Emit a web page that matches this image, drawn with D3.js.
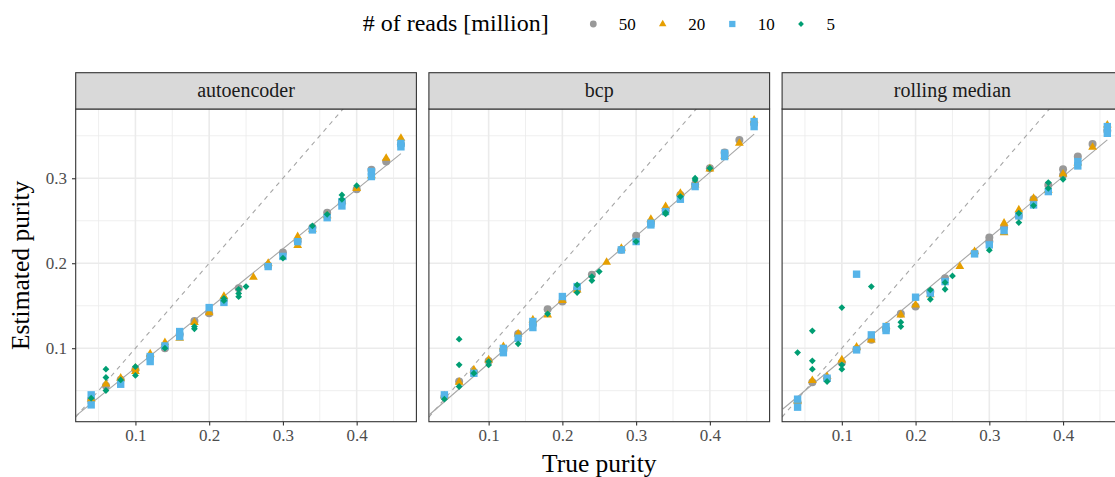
<!DOCTYPE html>
<html>
<head>
<meta charset="utf-8">
<script src="https://cdn.jsdelivr.net/npm/d3@7"></script>
<style>
  html, body { margin: 0; padding: 0; background: #fff; overflow: hidden; }
  svg { display: block; font-family: "Liberation Serif", "DejaVu Serif", serif; }
</style>
</head>
<body>
<svg id="chart" width="1115" height="477"></svg>
<script>
// ---- data ---------------------------------------------------------------
const methods = ["autoencoder", "bcp", "rolling median"];
const readLabels = ["50", "20", "10", "5"];          // million reads
const readColors = ["#999999", "#E69F00", "#56B4E9", "#009E73"];
const xTicks = [0.1, 0.2, 0.3, 0.4];
const xMinor = [0.05, 0.15, 0.25, 0.35, 0.45];
const yTicks = [0.1, 0.2, 0.3];
const yMinor = [0.05, 0.15, 0.25, 0.35];

// linear fit of estimated vs true purity, per method
const fitSlope = [0.700, 0.750, 0.720];
const fitIntercept = [0.007, 0.007, 0.014];
const fitRange = [0.02, 0.46];

// [true purity, estimated purity]
const autoencoder50 = [[0.04,0.040],[0.06,0.0557],[0.08,0.063],[0.10,0.075],[0.12,0.090],[0.14,0.100],[0.16,0.116],[0.18,0.1321],[0.20,0.1411],[0.22,0.157],[0.24,0.1705],[0.28,0.197],[0.30,0.2125],[0.32,0.226],[0.34,0.242],[0.36,0.2595],[0.38,0.272],[0.40,0.287],[0.42,0.310],[0.44,0.3196],[0.46,0.340]];
const autoencoder20 = [[0.04,0.040],[0.06,0.058],[0.08,0.0647],[0.10,0.0765],[0.10,0.0726],[0.12,0.0933],[0.14,0.1066],[0.16,0.1117],[0.18,0.1302],[0.20,0.1419],[0.22,0.1610],[0.26,0.1835],[0.28,0.200],[0.32,0.2313],[0.32,0.2209],[0.34,0.240],[0.36,0.256],[0.38,0.273],[0.40,0.288],[0.42,0.303],[0.44,0.3235],[0.46,0.347]];
const autoencoder10 = [[0.04,0.0451],[0.04,0.0333],[0.08,0.0576],[0.12,0.0902],[0.12,0.0843],[0.14,0.1027],[0.16,0.1196],[0.16,0.1137],[0.20,0.1478],[0.22,0.1539],[0.28,0.1961],[0.30,0.208],[0.32,0.2254],[0.34,0.2392],[0.36,0.2536],[0.38,0.2725],[0.38,0.2674],[0.42,0.3078],[0.42,0.302],[0.46,0.341],[0.46,0.337]];
const autoencoder5 = [[0.04,0.0412],[0.06,0.0753],[0.06,0.0655],[0.06,0.0502],[0.08,0.0627],[0.10,0.0784],[0.10,0.068],[0.14,0.100],[0.18,0.1255],[0.18,0.1228],[0.22,0.1586],[0.22,0.1559],[0.24,0.1693],[0.24,0.1645],[0.24,0.1606],[0.25,0.1725],[0.30,0.2059],[0.34,0.2439],[0.36,0.2575],[0.38,0.2804],[0.38,0.2753],[0.40,0.2913]];

const bcp50 = [[0.04,0.043],[0.06,0.0608],[0.08,0.072],[0.10,0.085],[0.12,0.098],[0.14,0.1168],[0.16,0.128],[0.18,0.1459],[0.20,0.1549],[0.22,0.170],[0.24,0.1863],[0.28,0.216],[0.30,0.2322],[0.32,0.248],[0.34,0.262],[0.36,0.2804],[0.38,0.293],[0.40,0.3118],[0.42,0.3302],[0.44,0.3451],[0.46,0.364]];
const bcp20 = [[0.04,0.044],[0.06,0.060],[0.08,0.0744],[0.10,0.0862],[0.12,0.1018],[0.14,0.1169],[0.16,0.1333],[0.18,0.1392],[0.20,0.1561],[0.22,0.1686],[0.26,0.2012],[0.28,0.2176],[0.32,0.2518],[0.34,0.2667],[0.36,0.2824],[0.38,0.292],[0.40,0.311],[0.42,0.326],[0.44,0.3412],[0.46,0.3686]];
const bcp10 = [[0.04,0.0451],[0.08,0.0705],[0.12,0.0998],[0.12,0.0947],[0.14,0.1118],[0.16,0.1314],[0.16,0.1243],[0.20,0.1608],[0.22,0.1725],[0.28,0.2157],[0.30,0.2255],[0.32,0.2471],[0.32,0.2451],[0.34,0.2608],[0.36,0.2753],[0.38,0.2902],[0.42,0.3294],[0.42,0.3255],[0.46,0.3667],[0.46,0.3608]];
const bcp5 = [[0.04,0.040],[0.06,0.1106],[0.06,0.0804],[0.06,0.0549],[0.08,0.0705],[0.10,0.0843],[0.10,0.0803],[0.14,0.1051],[0.18,0.1404],[0.22,0.1745],[0.22,0.1655],[0.24,0.1843],[0.24,0.1796],[0.25,0.1902],[0.30,0.2255],[0.34,0.2596],[0.34,0.258],[0.36,0.2784],[0.38,0.300],[0.38,0.298],[0.40,0.3118]];

const rollingMedian50 = [[0.04,0.036],[0.06,0.060],[0.08,0.064],[0.10,0.083],[0.12,0.099],[0.14,0.110],[0.16,0.122],[0.18,0.1404],[0.20,0.149],[0.22,0.1667],[0.24,0.1824],[0.28,0.212],[0.30,0.2302],[0.30,0.2255],[0.32,0.242],[0.34,0.256],[0.36,0.2753],[0.38,0.2922],[0.40,0.3106],[0.40,0.3039],[0.42,0.3255],[0.44,0.3404],[0.46,0.356]];
const rollingMedian20 = [[0.04,0.038],[0.06,0.062],[0.08,0.0667],[0.10,0.0863],[0.12,0.1012],[0.14,0.1098],[0.16,0.1255],[0.18,0.1392],[0.20,0.151],[0.22,0.163],[0.26,0.1961],[0.28,0.2137],[0.32,0.2471],[0.32,0.236],[0.34,0.2627],[0.36,0.2765],[0.38,0.286],[0.40,0.305],[0.42,0.318],[0.44,0.3365],[0.46,0.3627]];
const rollingMedian10 = [[0.04,0.040],[0.04,0.0306],[0.08,0.0647],[0.12,0.1871],[0.12,0.098],[0.14,0.1157],[0.16,0.1255],[0.16,0.1208],[0.20,0.160],[0.22,0.1647],[0.24,0.1784],[0.28,0.211],[0.30,0.2216],[0.32,0.2384],[0.34,0.2557],[0.36,0.2686],[0.38,0.2843],[0.42,0.3196],[0.42,0.3145],[0.46,0.3608],[0.46,0.3529]];
const rollingMedian5 = [[0.04,0.0949],[0.06,0.1204],[0.06,0.0851],[0.06,0.0753],[0.08,0.0608],[0.10,0.1478],[0.10,0.0804],[0.10,0.0753],[0.14,0.1725],[0.18,0.1306],[0.18,0.1255],[0.22,0.1686],[0.22,0.1576],[0.24,0.1773],[0.24,0.1694],[0.25,0.1851],[0.30,0.2153],[0.34,0.2588],[0.34,0.2478],[0.36,0.2678],[0.38,0.2949],[0.38,0.2882],[0.40,0.2988]];

const methodSeries = [
  [autoencoder50, autoencoder20, autoencoder10, autoencoder5],
  [bcp50, bcp20, bcp10, bcp5],
  [rollingMedian50, rollingMedian20, rollingMedian10, rollingMedian5]
];

// ---- layout -------------------------------------------------------------
const svg = d3.select("#chart");
const panelW = 340.7, panelGap = 12.5, firstLeft = 75.7;
const stripTop = 72.7, panelTop = 109, panelBottom = 421.7;
const xDomain = [0.019, 0.481];
const yDomain = [0.0135, 0.3815];
const border = "#333333";

const y = d3.scaleLinear().domain(yDomain).range([panelBottom, panelTop]);

// marker shapes: circle, triangle, square, diamond
function markerPath(i, k) {
  const p = d3.path();
  if (i === 0) {
    const r = 4 * k; p.moveTo(r, 0); p.arc(0, 0, r, 0, 2 * Math.PI);
  } else if (i === 1) {
    const s = 8.8 * k, h = s * Math.sqrt(3) / 2;
    p.moveTo(0, -2 * h / 3); p.lineTo(s / 2, h / 3); p.lineTo(-s / 2, h / 3); p.closePath();
  } else if (i === 2) {
    const a = 3.7 * k; p.rect(-a, -a, 2 * a, 2 * a);
  } else {
    const r = 3.4 * k;
    p.moveTo(0, -r); p.lineTo(r, 0); p.lineTo(0, r); p.lineTo(-r, 0); p.closePath();
  }
  return p.toString();
}

const defs = svg.append("defs");

methods.forEach((name, m) => {
  const left = firstLeft + m * (panelW + panelGap);
  const x = d3.scaleLinear().domain(xDomain).range([left, left + panelW]);
  const g = svg.append("g");

  defs.append("clipPath").attr("id", "clip" + m)
    .append("rect").attr("x", left).attr("y", panelTop)
    .attr("width", panelW).attr("height", panelBottom - panelTop);

  // panel background and grid
  g.append("rect").attr("x", left).attr("y", panelTop)
    .attr("width", panelW).attr("height", panelBottom - panelTop).attr("fill", "#fff");

  const grid = g.append("g").attr("clip-path", `url(#clip${m})`);
  grid.selectAll(".xmin").data(xMinor).join("line")
    .attr("x1", d => x(d)).attr("x2", d => x(d)).attr("y1", panelTop).attr("y2", panelBottom)
    .attr("stroke", "#EBEBEB").attr("stroke-width", 0.8);
  grid.selectAll(".ymin").data(yMinor).join("line")
    .attr("y1", d => y(d)).attr("y2", d => y(d)).attr("x1", left).attr("x2", left + panelW)
    .attr("stroke", "#EBEBEB").attr("stroke-width", 0.8);
  grid.selectAll(".xmaj").data(xTicks).join("line")
    .attr("x1", d => x(d)).attr("x2", d => x(d)).attr("y1", panelTop).attr("y2", panelBottom)
    .attr("stroke", "#EBEBEB").attr("stroke-width", 1.6);
  grid.selectAll(".ymaj").data(yTicks).join("line")
    .attr("y1", d => y(d)).attr("y2", d => y(d)).attr("x1", left).attr("x2", left + panelW)
    .attr("stroke", "#EBEBEB").attr("stroke-width", 1.6);

  // identity line and fitted line
  const lines = g.append("g").attr("clip-path", `url(#clip${m})`);
  lines.append("line")
    .attr("x1", x(xDomain[0])).attr("y1", y(xDomain[0]))
    .attr("x2", x(xDomain[1])).attr("y2", y(xDomain[1]))
    .attr("stroke", "#A6A6A6").attr("stroke-width", 1.1).attr("stroke-dasharray", "4.5,4.5");
  const fy = v => fitIntercept[m] + fitSlope[m] * v;
  lines.append("line")
    .attr("x1", x(fitRange[0])).attr("y1", y(fy(fitRange[0])))
    .attr("x2", x(fitRange[1])).attr("y2", y(fy(fitRange[1])))
    .attr("stroke", "#A6A6A6").attr("stroke-width", 1.1);

  // points: 50, 20, 10, 5 million reads
  const pts = g.append("g");
  methodSeries[m].forEach((series, s) => {
    pts.selectAll(null).data(series).join("path")
      .attr("transform", d => `translate(${x(d[0])},${y(d[1])})`)
      .attr("d", markerPath(s, 1))
      .attr("fill", readColors[s]);
  });

  // panel border
  g.append("rect").attr("x", left).attr("y", panelTop)
    .attr("width", panelW).attr("height", panelBottom - panelTop)
    .attr("fill", "none").attr("stroke", border).attr("stroke-width", 1.1);

  // strip
  g.append("rect").attr("x", left).attr("y", stripTop)
    .attr("width", panelW).attr("height", panelTop - stripTop)
    .attr("fill", "#D9D9D9").attr("stroke", border).attr("stroke-width", 1.1);
  g.append("text").attr("x", left + panelW / 2).attr("y", 97)
    .attr("text-anchor", "middle").attr("font-size", 20).attr("fill", "#1A1A1A")
    .text(name);

  // x axis
  const xAxis = g.append("g").attr("transform", `translate(0,${panelBottom})`)
    .call(d3.axisBottom(x).tickValues(xTicks).tickSize(3.7).tickPadding(4)
      .tickFormat(d3.format(".1f")));
  xAxis.select(".domain").remove();
  xAxis.selectAll(".tick line").attr("stroke", border).attr("stroke-width", 1.1);
  xAxis.selectAll(".tick text").attr("font-size", 17).attr("fill", "#4D4D4D")
    .attr("font-family", "Liberation Serif, DejaVu Serif, serif");

  if (m === 0) {
    const yAxis = g.append("g").attr("transform", `translate(${left},0)`)
      .call(d3.axisLeft(y).tickValues(yTicks).tickSize(3.7).tickPadding(5)
        .tickFormat(d3.format(".1f")));
    yAxis.select(".domain").remove();
    yAxis.selectAll(".tick line").attr("stroke", border).attr("stroke-width", 1.1);
    yAxis.selectAll(".tick text").attr("font-size", 17).attr("fill", "#4D4D4D")
      .attr("font-family", "Liberation Serif, DejaVu Serif, serif");
  }
});

// axis titles
const plotRight = firstLeft + 3 * panelW + 2 * panelGap;
svg.append("text").attr("x", (firstLeft + plotRight) / 2).attr("y", 472)
  .attr("text-anchor", "middle").attr("font-size", 25.5).attr("fill", "#000")
  .text("True purity");
svg.append("text")
  .attr("transform", `translate(29,${(panelTop + panelBottom) / 2}) rotate(-90)`)
  .attr("text-anchor", "middle").attr("font-size", 25.5).attr("fill", "#000")
  .text("Estimated purity");

// legend
const legend = svg.append("g");
legend.append("text").attr("x", 362.7).attr("y", 30.5)
  .attr("font-size", 24).attr("fill", "#000").text("# of reads [million]");
const legendKeyX = [593.3, 662.7, 732.3, 801];
readLabels.forEach((lab, i) => {
  legend.append("path")
    .attr("transform", `translate(${legendKeyX[i]},24)`)
    .attr("d", markerPath(i, 0.85))
    .attr("fill", readColors[i]);
  legend.append("text").attr("x", legendKeyX[i] + 25.5).attr("y", 30)
    .attr("font-size", 17).attr("fill", "#000").text(lab);
});
</script>
</body>
</html>
